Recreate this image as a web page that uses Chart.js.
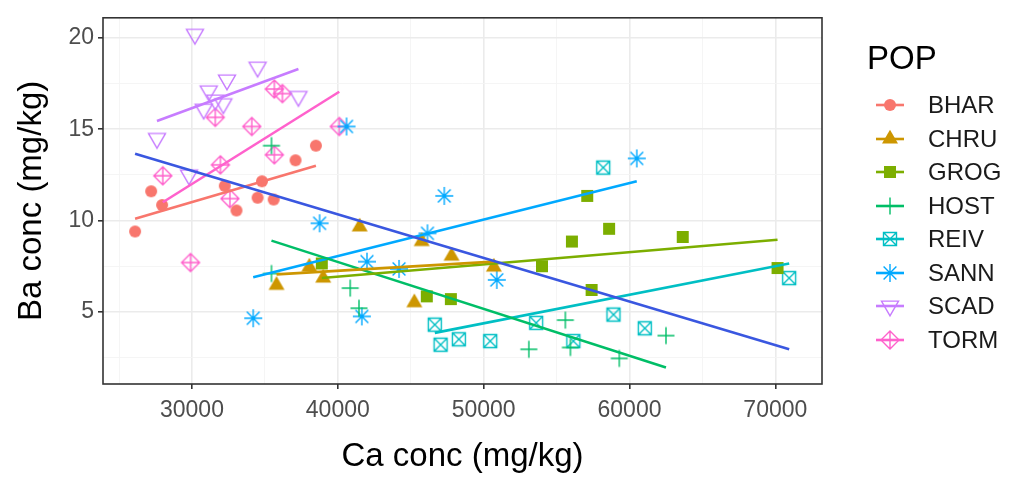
<!DOCTYPE html>
<html>
<head>
<meta charset="utf-8">
<script src="https://cdn.jsdelivr.net/npm/chart.js@4.4.1/dist/chart.umd.min.js"></script>
<style>
    body { margin: 0; background: #fff; }
    #wrap { position: relative; width: 1023px; height: 477px; }
    #legend { position: absolute; left: 0; top: 0; font-family: "Liberation Sans", Arial, sans-serif; }
    .leg-title { position: absolute; left: 867px; font-size: 33px; color: #000; line-height: 1; }
    .leg-row { position: absolute; left: 874px; height: 30px; display: flex; align-items: center; }
    .leg-row span { font-size: 24px; color: #1a1a1a; margin-left: 22px; }
</style>
</head>
<body>
<div id="wrap">
    <canvas id="chart" width="1023" height="477"></canvas>
    <div id="legend"></div>
</div>
<script>
// populations, legend order
const popNames = ['BHAR', 'CHRU', 'GROG', 'HOST', 'REIV', 'SANN', 'SCAD', 'TORM'];
const popColors = ['#F8766D', '#CD9600', '#7CAE00', '#00BE67', '#00BFC4', '#00A9FF', '#C77CFF', '#FF61CC'];
const popShapes = ['circle', 'triUp', 'square', 'plus', 'squareX', 'asterisk', 'triDown', 'diamondPlus'];

// points [Ca conc, Ba conc]
const BHAR = [[26100, 9.4], [27200, 11.6], [27950, 10.85], [32250, 11.9], [33050, 10.55],
    [34500, 11.25], [34800, 12.15], [35600, 11.15], [37100, 13.3], [38500, 14.1]];
const CHRU = [[35800, 6.45], [38050, 7.45], [39000, 6.85], [41500, 9.65], [45250, 5.5],
    [45750, 8.85], [47800, 8.05], [50700, 7.45]];
const GROG = [[38900, 7.65], [46100, 5.85], [47750, 5.7], [54000, 7.5], [56050, 8.85],
    [57100, 11.35], [57400, 6.2], [58600, 9.55], [63650, 9.1], [70150, 7.4]];
const HOST = [[35450, 14.1], [35450, 7.1], [40850, 6.3], [41450, 5.2], [53100, 2.95],
    [55600, 4.55], [55950, 3.05], [59300, 2.45], [62500, 3.7]];
const REIV = [[46650, 4.3], [47050, 3.2], [48300, 3.5], [50450, 3.4], [53600, 4.4],
    [56150, 3.4], [58200, 12.9], [58900, 4.85], [61050, 4.1], [70950, 6.85]];
const SANN = [[34200, 4.65], [38750, 9.85], [40600, 15.15], [41650, 4.75], [42000, 7.75],
    [44200, 7.35], [46150, 9.3], [47300, 11.35], [50900, 6.75], [60500, 13.4]];
const SCAD = [[27600, 14.5], [29800, 12.5], [30200, 20.2], [30800, 16.1], [31150, 17.1],
    [31600, 16.6], [32150, 16.4], [32400, 17.7], [34500, 18.4], [37300, 16.8]];
const TORM = [[28000, 12.45], [29900, 7.7], [31600, 15.65], [31950, 13.05], [32600, 11.2],
    [34100, 15.15], [35650, 13.6], [35650, 17.2], [36200, 16.95], [40100, 15.15]];

// fitted lines (end points)
const fitBHAR = [[26100, 10.1], [38500, 13.0]];
const fitCHRU = [[35800, 7.05], [50700, 7.75]];
const fitGROG = [[38900, 6.85], [70150, 8.95]];
const fitHOST = [[35450, 8.9], [62500, 1.95]];
const fitREIV = [[46650, 3.85], [70950, 7.65]];
const fitSANN = [[34200, 6.9], [60500, 12.15]];
const fitSCAD = [[27600, 15.45], [37300, 18.3]];
const fitTORM = [[28000, 11.0], [40100, 17.05]];
const fitAll = [[26100, 13.65], [70950, 2.95]];

const popPoints = [BHAR, CHRU, GROG, HOST, REIV, SANN, SCAD, TORM];
const popFits = [fitBHAR, fitCHRU, fitGROG, fitHOST, fitREIV, fitSANN, fitSCAD, fitTORM];

// axis ticks (major labelled, minor = grid only)
const xTicks = [30000, 40000, 50000, 60000, 70000];
const xMinor = [25000, 35000, 45000, 55000, 65000];
const yTicks = [5, 10, 15, 20];
const yMinor = [2.5, 7.5, 12.5, 17.5];

function drawShape(g, shape, color) {
    g.strokeStyle = color;
    g.fillStyle = color;
    g.lineWidth = 1.4;
    g.beginPath();
    switch (shape) {
        case 'circle':
            g.arc(0, 0, 6, 0, Math.PI * 2);
            g.fill();
            break;
        case 'triUp':
            g.moveTo(0, -9.2); g.lineTo(8, 4.6); g.lineTo(-8, 4.6); g.closePath();
            g.fill();
            break;
        case 'square':
            g.fillRect(-6, -6, 12, 12);
            break;
        case 'plus':
            g.moveTo(-8.5, 0); g.lineTo(8.5, 0);
            g.moveTo(0, -8.5); g.lineTo(0, 8.5);
            g.stroke();
            break;
        case 'squareX':
            g.rect(-6.5, -6.5, 13, 13);
            g.moveTo(-6.5, -6.5); g.lineTo(6.5, 6.5);
            g.moveTo(6.5, -6.5); g.lineTo(-6.5, 6.5);
            g.stroke();
            break;
        case 'asterisk':
            g.moveTo(-9, 0); g.lineTo(9, 0);
            g.moveTo(0, -9); g.lineTo(0, 9);
            g.moveTo(-6.4, -6.4); g.lineTo(6.4, 6.4);
            g.moveTo(6.4, -6.4); g.lineTo(-6.4, 6.4);
            g.stroke();
            break;
        case 'triDown':
            g.moveTo(-8.5, -4.9); g.lineTo(8.5, -4.9); g.lineTo(0, 9.8); g.closePath();
            g.stroke();
            break;
        case 'diamondPlus':
            g.moveTo(0, -9); g.lineTo(9, 0); g.lineTo(0, 9); g.lineTo(-9, 0); g.closePath();
            g.moveTo(-9, 0); g.lineTo(9, 0);
            g.moveTo(0, -9); g.lineTo(0, 9);
            g.stroke();
            break;
    }
}

function makeMarker(shape, color) {
    const c = document.createElement('canvas');
    c.width = 24;
    c.height = 24;
    const g = c.getContext('2d');
    g.translate(12, 12);
    drawShape(g, shape, color);
    return c;
}

const datasets = [];
datasets.push({
    data: fitAll.map(p => ({x: p[0], y: p[1]})),
    showLine: true, pointRadius: 0, borderColor: '#3A57E0', borderWidth: 2.6
});
popFits.forEach((f, i) => {
    datasets.push({
        data: f.map(p => ({x: p[0], y: p[1]})),
        showLine: true, pointRadius: 0, borderColor: popColors[i], borderWidth: 2.6
    });
});
popPoints.forEach((pts, i) => {
    datasets.push({
        data: pts.map(p => ({x: p[0], y: p[1]})),
        pointStyle: makeMarker(popShapes[i], popColors[i]),
        pointRadius: 9, pointHoverRadius: 9
    });
});

const isMajorX = v => xTicks.some(t => Math.abs(t - v) < 1e-6);
const isMajorY = v => yTicks.some(t => Math.abs(t - v) < 1e-6);

const panelBorder = {
    id: 'panelBorder',
    afterDraw(chart) {
        const a = chart.chartArea;
        const ctx = chart.ctx;
        ctx.save();
        ctx.strokeStyle = '#333333';
        ctx.lineWidth = 1.6;
        ctx.strokeRect(a.left, a.top, a.right - a.left, a.bottom - a.top);
        ctx.restore();
    }
};

const tickFont = {family: '"Liberation Sans", Arial, sans-serif', size: 23};
const titleFont = {family: '"Liberation Sans", Arial, sans-serif', size: 33};

new Chart(document.getElementById('chart'), {
    type: 'scatter',
    data: {datasets: datasets},
    options: {
        responsive: false,
        animation: false,
        devicePixelRatio: 1,
        layout: {padding: {top: 10, right: 201, left: 0, bottom: 0}},
        plugins: {legend: {display: false}, tooltip: {enabled: false}},
        scales: {
            x: {
                type: 'linear', min: 23900, max: 73200,
                afterFit: s => { s.height = 93; },
                afterBuildTicks: s => {
                    s.ticks = xMinor.concat(xTicks).sort((a, b) => a - b).map(v => ({value: v}));
                },
                border: {display: false},
                grid: {
                    color: c => isMajorX(c.tick.value) ? '#EBEBEB' : '#F4F4F4',
                    lineWidth: c => isMajorX(c.tick.value) ? 1.6 : 0.9,
                    tickColor: c => isMajorX(c.tick.value) ? '#333333' : 'rgba(0,0,0,0)',
                    tickLength: 5
                },
                ticks: {
                    autoSkip: false, maxRotation: 0,
                    color: '#4D4D4D', font: tickFont, padding: 8,
                    callback: v => isMajorX(v) ? String(v) : ''
                },
                title: {display: true, text: 'Ca conc (mg/kg)', color: '#000', font: titleFont, padding: {top: 4, bottom: 0}}
            },
            y: {
                type: 'linear', min: 1.05, max: 21.1,
                afterFit: s => { s.width = 103; },
                afterBuildTicks: s => {
                    s.ticks = yMinor.concat(yTicks).sort((a, b) => a - b).map(v => ({value: v}));
                },
                border: {display: false},
                grid: {
                    color: c => isMajorY(c.tick.value) ? '#EBEBEB' : '#F4F4F4',
                    lineWidth: c => isMajorY(c.tick.value) ? 1.6 : 0.9,
                    tickColor: c => isMajorY(c.tick.value) ? '#333333' : 'rgba(0,0,0,0)',
                    tickLength: 5
                },
                ticks: {
                    autoSkip: false,
                    color: '#4D4D4D', font: tickFont, padding: 4,
                    callback: v => isMajorY(v) ? String(Math.round(v)) : ''
                },
                title: {display: true, text: 'Ba conc (mg/kg)', color: '#000', font: titleFont, padding: {top: 12, bottom: 4}}
            }
        }
    },
    plugins: [panelBorder]
});

// legend (ggplot style: line + marker key)
const legend = document.getElementById('legend');
const lt = document.createElement('div');
lt.className = 'leg-title';
lt.style.top = '41px';
lt.textContent = 'POP';
legend.appendChild(lt);
popNames.forEach((name, i) => {
    const row = document.createElement('div');
    row.className = 'leg-row';
    row.style.top = (105 + i * 33.5 - 15) + 'px';
    const key = document.createElement('canvas');
    key.width = 32;
    key.height = 24;
    const g = key.getContext('2d');
    g.strokeStyle = popColors[i];
    g.lineWidth = 2.6;
    g.beginPath();
    g.moveTo(2, 12); g.lineTo(30, 12);
    g.stroke();
    g.translate(16, 12);
    drawShape(g, popShapes[i], popColors[i]);
    row.appendChild(key);
    const label = document.createElement('span');
    label.textContent = name;
    row.appendChild(label);
    legend.appendChild(row);
});
</script>
</body>
</html>
